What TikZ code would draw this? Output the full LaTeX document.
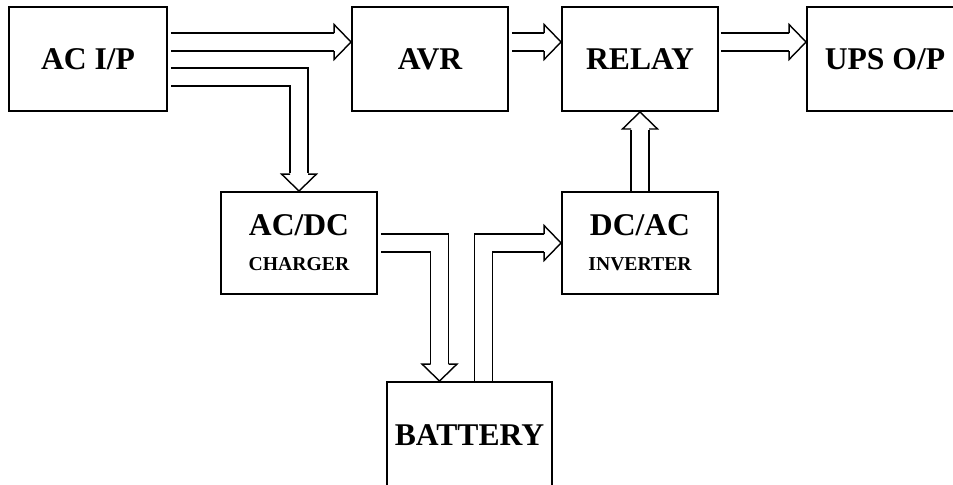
\documentclass[tikz,border=0pt]{standalone}
\usepackage{fontspec}
\setmainfont{Liberation Serif}
\usetikzlibrary{calc, backgrounds}

\newcommand{\boxfont}{\bfseries\fontsize{18}{20}\selectfont}
\newcommand{\subfont}{\fontsize{11.2}{13}\selectfont}

\begin{document}
\begin{tikzpicture}[
    x=0.02cm, y=-0.02cm,
    block/.style={draw, rectangle, line width=1.1pt, minimum width=#1, minimum height=2.08cm, inner sep=0pt, font=\boxfont, align=center},
    block/.default=3.12cm,
    pipe/.style={line width=0.8pt, double, double distance=0.332cm},
    hollowhead/.pic={\draw[line width=0.8pt, line join=miter] (-17,-9) -- (-17,-17.5) -- (0,0) -- (-17,17.5) -- (-17,9);}
]

\clip (0,0) rectangle (953,484);

% Linha de cima
\node[block=3.16cm] (acin) at (88,59) {AC I/P};
\node[block] (avr) at (430,59) {AVR};
\node[block] (relay) at (640,59) {RELAY};
\node[block] (upsout) at (885,59) {UPS O/P};

% Carregador, inversor e bateria
\node[block, minimum height=2.04cm] (charger) at (299,243) {AC/DC\\{\subfont CHARGER}};
\node[block, minimum height=2.04cm] (inverter) at (640,243) {DC/AC\\{\subfont INVERTER}};
\node[block=3.3cm, minimum height=2.12cm] (battery) at (469.5,435) {BATTERY};

% Setas ocas
\begin{scope}[on background layer]
\draw[pipe] ($(acin.east)+(3,-17)$) -- ($(avr.west)+(-17,-17)$);
\draw[pipe] ($(acin.east)+(3,18)$) -| ($(charger.north)+(0,-18)$);
\draw[pipe] ($(avr.east)+(3,-17)$) -- ($(relay.west)+(-17,-17)$);
\draw[pipe] ($(relay.east)+(2,-17)$) -- ($(upsout.west)+(-17,-17)$);
\draw[pipe] ($(charger.east)+(3,0)$) -| ($(battery.north)+(-30,-17)$);
\draw[pipe] ($(battery.north)+(14,0)$) |- ($(inverter.west)+(-17,0)$);
\draw[pipe] (inverter.north) -- ($(relay.south)+(0,18)$);
\end{scope}

\pic at ($(avr.west)+(0,-17)$) {hollowhead};
\pic[rotate=-90] at (charger.north) {hollowhead};
\pic at ($(relay.west)+(0,-17)$) {hollowhead};
\pic at ($(upsout.west)+(0,-17)$) {hollowhead};
\pic[rotate=-90] at ($(battery.north)+(-30,0)$) {hollowhead};
\pic at (inverter.west) {hollowhead};
\pic[rotate=90] at (relay.south) {hollowhead};

\end{tikzpicture}
\end{document}
